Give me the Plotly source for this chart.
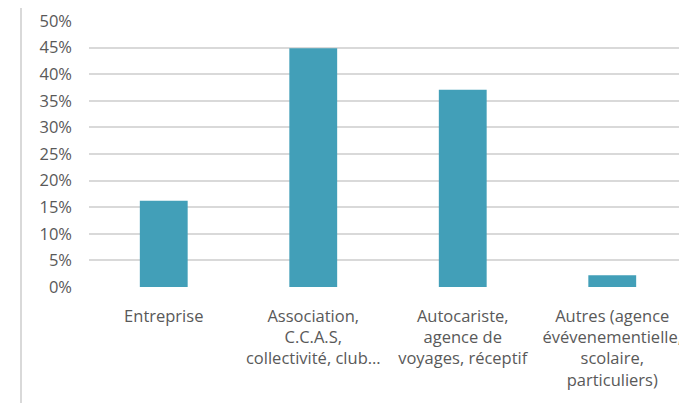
import plotly.graph_objects as go

categories = [
    "Entreprise",
    "Association,<br>C.C.A.S,<br>collectivité, club…",
    "Autocariste,<br>agence de<br>voyages, réceptif",
    "Autres (agence<br>évévenementielle,<br>scolaire,<br>particuliers)",
]
values = [16.2, 44.9, 37.1, 2.2]
y_ticks = [0, 5, 10, 15, 20, 25, 30, 35, 40, 45, 50]
y_tick_labels = [f"{v}%" for v in y_ticks]

BAR = "#429FB8"
GRID = "#D9D9D9"
TXT = "#595959"
FONT = "Open Sans"

fig = go.Figure(
    go.Bar(x=categories, y=values, marker=dict(color=BAR, line=dict(width=0)))
)

fig.update_layout(
    width=679,
    height=395,
    margin=dict(l=81, r=0, t=13, b=116, autoexpand=False),
    paper_bgcolor="white",
    plot_bgcolor="white",
    bargap=0.68,
    showlegend=False,
    font=dict(family=FONT, size=16, color=TXT),
    shapes=[
        dict(type="line", xref="paper", yref="paper",
             x0=-0.1137, x1=-0.1137, y0=-0.5, y1=1.1,
             line=dict(color=GRID, width=2))
    ],
)

fig.update_xaxes(
    showgrid=False, zeroline=False, showline=False,
    tickfont=dict(family=FONT, size=16.5, color=TXT),
    ticklabelstandoff=17,
    automargin=False,
)
fig.update_yaxes(
    range=[0, 50],
    tickmode="array",
    tickvals=y_ticks,
    ticktext=y_tick_labels,
    showgrid=True, gridcolor=GRID, gridwidth=1.5,
    zeroline=False, showline=False,
    tickfont=dict(family=FONT, size=16.5, color=TXT),
    ticklabelstandoff=16,
    automargin=False,
)

fig.write_html("out.html")
